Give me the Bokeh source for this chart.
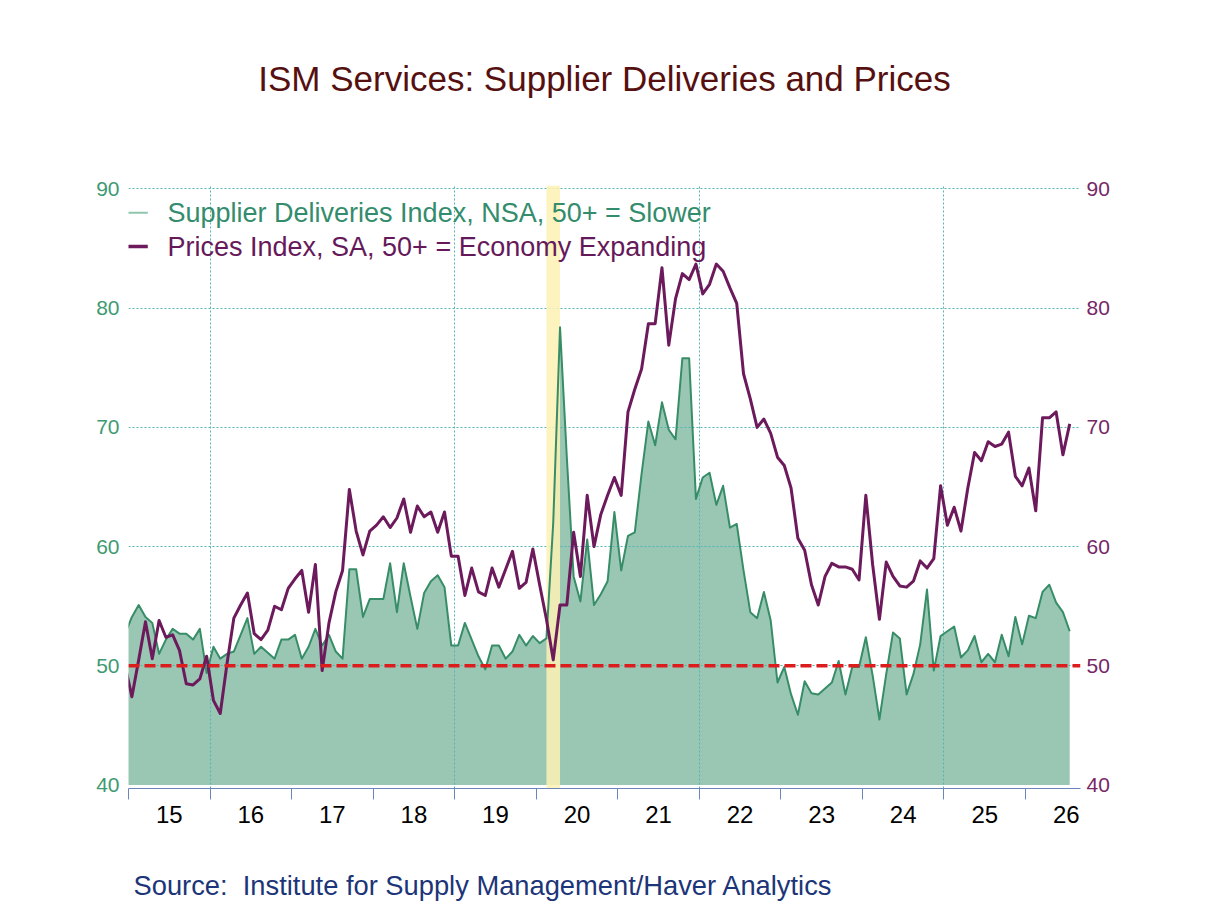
import pandas as pd
from bokeh.plotting import figure
from bokeh.models import (Range1d, LinearAxis, FixedTicker, CustomJSTickFormatter,
                          Span, BoxAnnotation, Label, Arrow, Title)
from bokeh.embed import file_html
from bokeh.resources import INLINE

# ---------------- data (monthly, first value = Dec 2014, clipped at the left edge) ----------------
first_month = "2014-12"
supplier_deliveries = [
    52.7,
    54.1, 55.1, 54.1, 53.6, 51.0, 52.2, 53.1, 52.7, 52.7, 52.2, 53.1, 49.4,
    51.6, 50.6, 51.0, 51.2, 52.6, 54.0, 51.0, 51.6, 51.1, 50.6, 52.2, 52.2,
    52.6, 50.6, 51.6, 53.1, 51.7, 52.6, 51.2, 50.6, 58.1, 58.1, 54.1, 55.6,
    55.6, 55.6, 58.6, 54.5, 58.6, 55.8, 53.1, 56.1, 57.1, 57.6, 56.6, 51.7,
    51.7, 53.6, 52.2, 50.8, 49.7, 51.7, 51.7, 50.6, 51.2, 52.6, 51.7, 52.5,
    51.9, 52.3, 62.0, 78.4, 67.5, 57.5, 55.4, 60.6, 55.1, 56.0, 57.1, 62.9,
    58.0, 60.9, 61.2, 66.1, 70.5, 68.5, 72.1, 69.8, 69.0, 75.8, 75.8, 64.0,
    65.8, 66.2, 63.5, 65.1, 61.6, 61.9, 58.0, 54.5, 54.0, 56.2, 53.8, 48.6,
    49.9, 47.6, 45.9, 48.7, 47.7, 47.6, 48.1, 48.6, 50.4, 47.6, 49.9, 49.9,
    52.4, 49.2, 45.5, 49.3, 52.8, 52.3, 47.6, 49.3, 51.8, 56.4, 49.6, 52.5,
    52.9, 53.3, 50.7, 51.3, 52.5, 50.3, 51.0, 50.3, 52.6, 50.8, 54.1, 51.8,
    54.2, 54.0, 56.2, 56.8, 55.3, 54.5, 52.9,
]
prices = [
    50.0,
    47.4, 50.5, 53.7, 50.6, 53.8, 52.4, 52.6, 51.3, 48.5, 48.4, 48.9, 50.8,
    47.1, 46.0, 50.2, 54.0, 55.1, 56.1, 52.7, 52.2, 53.0, 55.0, 54.7, 56.5,
    57.3, 58.0, 54.5, 58.5, 49.6, 53.6, 56.2, 58.0, 64.8, 61.3, 59.3, 61.3,
    61.8, 62.5, 61.6, 62.4, 64.0, 61.2, 63.4, 62.5, 62.9, 61.2, 62.9, 59.2,
    59.2, 55.9, 58.2, 56.2, 55.9, 58.2, 56.6, 58.1, 59.6, 56.5, 57.0, 59.8,
    56.8, 53.9, 50.5, 55.1, 55.1, 61.2, 57.5, 64.3, 60.0, 62.7, 64.3, 65.8,
    64.3, 71.3, 73.2, 74.9, 78.7, 78.7, 83.4, 76.9, 80.8, 82.9, 82.4, 83.7,
    81.2, 82.0, 83.7, 83.1, 81.7, 80.4, 74.5, 72.4, 70.0, 70.7, 69.5, 67.5,
    66.8, 64.9, 60.7, 59.7, 56.8, 55.1, 57.5, 58.6, 58.3, 58.3, 58.1, 57.2,
    64.3, 58.5, 53.9, 58.7, 57.5, 56.7, 56.6, 57.1, 58.8, 58.2, 59.0, 65.1,
    61.8, 63.3, 61.3, 64.9, 67.9, 67.2, 68.8, 68.4, 68.6, 69.6, 65.9, 65.1,
    66.6, 63.0, 70.8, 70.8, 71.3, 67.7, 70.3,
]
recession = ("2020-02", "2020-04")
year_ticks = list(range(2015, 2027))
grid_years = [2016, 2019, 2022, 2025]
y_ticks = [40, 50, 60, 70, 80, 90]
y_grid = [50, 60, 70, 80, 90]
reference_level = 50

title_text = "ISM Services: Supplier Deliveries and Prices"
legend_sd = "Supplier Deliveries Index, NSA, 50+ = Slower"
legend_pr = "Prices Index, SA, 50+ = Economy Expanding"
source_text = "Source:\u00a0 Institute for Supply Management/Haver Analytics"

# ---------------- helpers ----------------
def mid_month(periods):
    return [pr.year + (pr.month - 0.5) / 12.0 for pr in periods]

months = pd.period_range(first_month, periods=len(prices), freq="M")
x = mid_month(months)
rec_l, rec_r = mid_month([pd.Period(recession[0], "M"), pd.Period(recession[1], "M")])

# ---------------- layout ----------------
W, H = 1200, 904
BL, BR, BT, BB = 128, 120, 185, 116
X0, X1 = 2015.0, 2026.674
Y0, Y1 = 39.71, 90.29
FW, FH = W - BL - BR, H - BT - BB

def dx(px):  # canvas px -> data x
    return X0 + (px - BL) / FW * (X1 - X0)

def dy(py):  # canvas px (from top) -> data y
    return Y1 - (py - BT) / FH * (Y1 - Y0)

GREEN_FILL = "#99c7b4"
GREEN_LINE = "#378d67"
PURPLE = "#6c1a5c"
GRID = "#52b5b5"
AXIS = "#6a86bd"
FONT = "Liberation Sans"

p = figure(width=W, height=H, output_backend="svg", toolbar_location=None,
           x_range=Range1d(X0, X1), y_range=Range1d(Y0, Y1),
           min_border_left=BL, min_border_right=BR, min_border_top=BT, min_border_bottom=BB,
           outline_line_color=None, background_fill_color="white", border_fill_color="white")

# keep references to the default axes before adding anything else
xa = p.below[0]
ya = p.left[0]


def spacer_axis(size):
    """An invisible axis (no line, tick marks or label text) used only to reserve space."""
    ax = LinearAxis(ticker=FixedTicker(ticks=[(X0 + X1) / 2]),
                    formatter=CustomJSTickFormatter(code="return '';"))
    ax.axis_line_color = None
    ax.major_tick_line_color = None
    ax.minor_tick_line_color = None
    ax.major_tick_out = size
    ax.major_tick_in = 0
    ax.minor_tick_out = 0
    ax.minor_tick_in = 0
    ax.major_label_standoff = 0
    return ax


# grids
p.xgrid.ticker = FixedTicker(ticks=grid_years)
p.ygrid.ticker = FixedTicker(ticks=y_grid)
for g in (p.xgrid[0], p.ygrid[0]):
    g.grid_line_color = GRID
    g.grid_line_dash = "2 2"
    g.grid_line_width = 1

# area + band + lines
p.varea(x=x, y1=40, y2=supplier_deliveries, fill_color=GREEN_FILL, level="image")
p.add_layout(BoxAnnotation(left=rec_l, right=rec_r, fill_color="#fbf1b4", fill_alpha=0.86,
                           line_color=None, level="underlay"))
p.line(x, supplier_deliveries, line_color=GREEN_LINE, line_width=2, line_join="round")
p.line(x, prices, line_color=PURPLE, line_width=3, line_join="round")
p.add_layout(Span(location=reference_level, dimension="width", line_color="#dd1c1c",
                  line_width=3.5, line_dash="11 5"))

# x axis (bottom)
xa.ticker = FixedTicker(ticks=[yr + 0.5 for yr in year_ticks], minor_ticks=year_ticks)
xa.formatter = CustomJSTickFormatter(code="return String(Math.floor(tick) % 100).padStart(2, '0');")
xa.axis_line_color = AXIS
xa.axis_line_width = 1
xa.major_tick_line_color = None
xa.major_tick_out = 0
xa.major_tick_in = 0
xa.minor_tick_line_color = AXIS
xa.minor_tick_out = 11
xa.minor_tick_in = 0
xa.major_label_standoff = 6
xa.major_label_text_font = FONT
xa.major_label_text_font_size = "24px"
xa.major_label_text_color = "black"

# y axes
ra = LinearAxis()
p.add_layout(ra, "right")
for ax, col, so in ((ya, "#3d9a73", 9), (ra, "#772766", 6)):
    ax.ticker = FixedTicker(ticks=y_ticks)
    ax.axis_line_color = None
    ax.major_tick_line_color = None
    ax.minor_tick_line_color = None
    ax.major_tick_out = 0
    ax.major_tick_in = 0
    ax.major_label_standoff = so
    ax.major_label_text_font = FONT
    ax.major_label_text_font_size = "21px"
    ax.major_label_text_color = col

# title (above, separated from the frame by an invisible spacer)
p.add_layout(spacer_axis(88), "above")
p.title.text = title_text
p.title.align = "center"
p.title.text_font = FONT
p.title.text_font_size = "35px"
p.title.text_font_style = "normal"
p.title.text_color = "#561010"
p.title.standoff = 0

# source (below, after an invisible spacer)
p.add_layout(spacer_axis(42), "below")
src = Title(text=source_text, align="left", offset=5, text_font=FONT, text_font_size="27.3px",
            text_font_style="normal", text_color="#1c3578", standoff=0)
p.add_layout(src, "below")

# legend
for ycan, col, wdt, txt, tcol in ((212.3, "#8fc6ad", 2, legend_sd, "#338c6c"),
                                  (246.0, PURPLE, 3.5, legend_pr, "#66195a")):
    p.add_layout(Arrow(start=None, end=None, x_start=dx(116.7), y_start=dy(ycan),
                       x_end=dx(147.3), y_end=dy(ycan), line_color=col, line_width=wdt))
    p.add_layout(Label(x=dx(167), y=dy(ycan), text=txt, text_font=FONT, text_font_size="27px",
                       text_color=tcol, text_baseline="middle", text_align="left"))

open("out.html", "w").write(file_html(p, INLINE))
